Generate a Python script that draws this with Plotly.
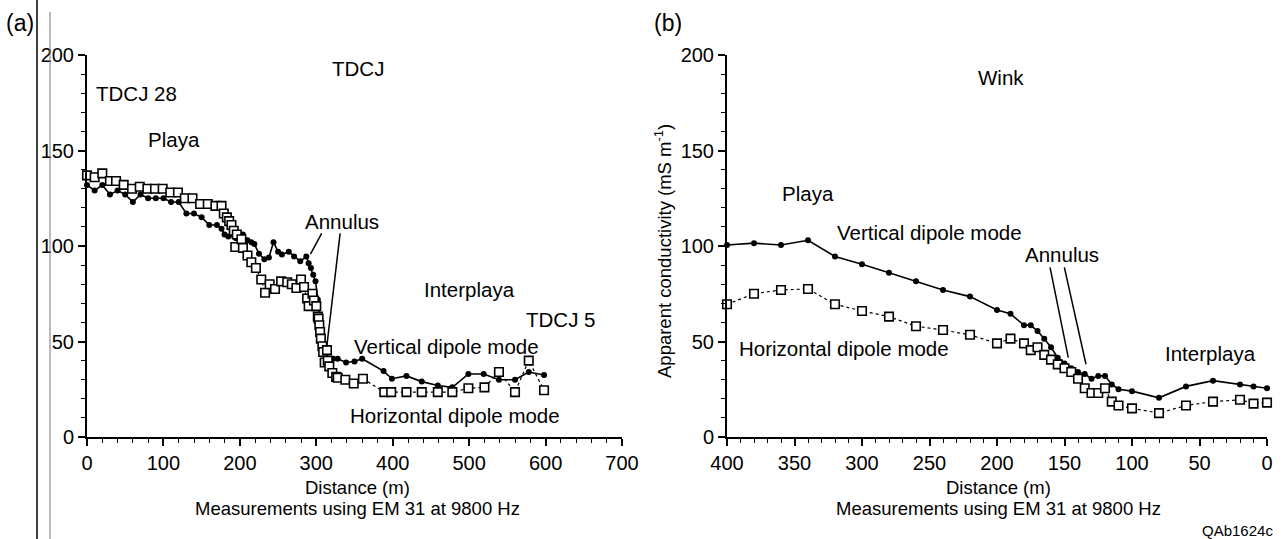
import plotly.graph_objects as go

# ---- Panel (a): TDCJ transect ----
a_vert_x = [0, 10, 20, 30, 40, 50, 60, 70, 80, 90, 100, 110, 120, 130, 140, 150, 160, 170,
            176, 180, 185, 190, 195, 204, 210, 215, 219, 225, 232, 238, 244, 250, 255, 264,
            271, 279, 287, 290, 293, 296, 299, 302, 305, 308, 311, 315, 322, 328, 339, 350,
            360, 388, 399, 418, 438, 459, 478, 499, 519, 539, 560, 578, 598]
a_vert_y = [132, 129, 132, 127, 129, 127, 123, 127, 125, 125, 125, 123, 123, 117, 117, 115, 111, 111,
            109, 106, 105, 106, 104, 106, 103, 102, 101, 96, 93, 94, 102, 97, 95.5, 97,
            94.5, 92, 94.5, 91, 88.5, 85, 81.5, 72, 60, 50, 45, 41, 41, 41, 39, 39.5,
            41, 34.5, 30.5, 32, 29, 27, 26, 33, 33, 30, 30, 34, 32.5]

a_horiz_x = [0, 10, 20, 30, 38, 48, 59, 69, 79, 89, 99, 109, 119, 128, 138, 148, 158, 168,
             176, 179, 183, 186, 189, 192, 194, 196, 202, 204, 210, 215, 221, 228, 233, 239,
             246, 254, 262, 268, 274, 280, 284, 288, 290, 295, 297, 300, 302, 303, 304, 305,
             306, 308, 309, 311, 314, 315, 317, 321, 326, 328, 338, 349, 361, 389, 398, 418,
             438, 459, 478, 499, 520, 539, 560, 578, 598]
a_horiz_y = [137, 136, 138, 134, 134, 132, 130, 131, 130, 130, 130, 128, 128, 125, 125, 122, 122, 121,
             121, 117, 115, 113, 111, 108, 99.5, 106, 103.5, 99, 95, 91.5, 88.5, 82.5, 75.5, 80,
             77.5, 81.5, 81, 80, 78, 82.5, 78.5, 72.5, 68.5, 75, 71.5, 68.5, 63, 62, 58.5, 55,
             51.5, 47.5, 44.5, 39, 45.5, 40, 37, 33.5, 31.5, 31, 30, 28, 30.5, 23.5, 23.5, 23.5,
             23.5, 23.5, 23.5, 25.5, 26, 34, 23.5, 40, 24.5]

# ---- Panel (b): Wink transect ----
b_x = [400, 380, 360, 340, 320, 300, 280, 260, 240, 220, 200, 190, 180, 175, 170, 165, 160,
       155, 150, 145, 140, 135, 130, 125, 120, 115, 110, 100, 80, 60, 40, 20, 10, 0]
b_vert_y = [100.5, 101.5, 100.5, 103, 94.5, 90.5, 86, 81.5, 77, 73.5, 66.5, 64.5, 58.5, 58.5,
            55.5, 51.5, 47, 41.5, 38.5, 36, 34, 33, 30.5, 32, 32, 27.5, 25, 24, 20.5, 26.5,
            29.5, 27.5, 26.5, 25.5]
b_horiz_y = [69.5, 75, 77, 77.5, 69.5, 66, 63, 58, 56, 53.5, 49, 51.5, 49, 45.5, 47, 43, 40.5,
             38, 36, 34, 30.5, 25.5, 23, 23, 25.5, 18.5, 16.5, 15, 12.5, 16.5, 18.5, 19.5, 17.5, 18]

# Text labels placed in data coordinates: (text, x, y)
a_labels = [("TDCJ", 354, 193), ("TDCJ 28", 65, 180), ("Playa", 114, 156),
            ("Annulus", 333, 112.7), ("Interplaya", 500, 77), ("TDCJ 5", 619, 61.3),
            ("Vertical dipole mode", 470, 47.6), ("Horizontal dipole mode", 482, 11.5)]
b_labels = [("Wink", 197, 188), ("Playa", 340, 127.4), ("Vertical dipole mode", 250, 107.1),
            ("Horizontal dipole mode", 313, 46.3), ("Annulus", 151.5, 95.8),
            ("Interplaya", 42, 43.7)]

# Leader lines from the "Annulus" labels: (x0, y0, x1, y1)
a_leaders = [(307, 106.6, 292.4, 95.8), (331.2, 106.6, 313.7, 47.3)]
b_leaders = [(160.7, 88.8, 147.2, 41.6), (150.1, 88.8, 134.1, 38.1)]

FONT = "Liberation Sans, Arial, Helvetica, sans-serif"
W, H = 1282, 539

fig = go.Figure()

def add_pair(xv, yv, xh, yh, xa, ya):
    fig.add_trace(go.Scatter(
        x=xv, y=yv, mode="lines+markers", xaxis=xa, yaxis=ya, cliponaxis=False,
        line=dict(color="black", width=1.6),
        marker=dict(symbol="circle", size=6, color="black"),
        showlegend=False, name="Vertical dipole mode"))
    fig.add_trace(go.Scatter(
        x=xh, y=yh, mode="lines+markers", xaxis=xa, yaxis=ya, cliponaxis=False,
        line=dict(color="black", width=1.2, dash="dot"),
        marker=dict(symbol="square", size=8.5, color="white",
                    line=dict(color="black", width=1.6)),
        showlegend=False, name="Horizontal dipole mode"))

add_pair(a_vert_x, a_vert_y, a_horiz_x, a_horiz_y, "x", "y")
add_pair(b_x, b_vert_y, b_x, b_horiz_y, "x2", "y2")

minor_ticks = dict(ticks="outside", ticklen=4, tickcolor="black", tickwidth=1.2)
axis_common = dict(
    showgrid=False, zeroline=False, showline=True, linecolor="black", linewidth=2,
    ticks="outside", ticklen=7, tickwidth=1.5, tickcolor="black", automargin=False,
    tickfont=dict(family=FONT, size=20, color="black"),
)

ydom = [(H - 437) / H, (H - 55) / H]
fig.update_layout(
    width=W, height=H, margin=dict(l=0, r=0, t=0, b=0, pad=0, autoexpand=False),
    paper_bgcolor="white", plot_bgcolor="white",
    xaxis=dict(domain=[87 / W, 622 / W], range=[0, 700], tick0=0, dtick=100,
               minor=dict(dtick=20, **minor_ticks), anchor="y", **axis_common),
    yaxis=dict(domain=ydom, range=[0, 200], tick0=0, dtick=50,
               minor=dict(dtick=10, **minor_ticks), anchor="x", **axis_common),
    xaxis2=dict(domain=[727 / W, 1267 / W], range=[400, 0], tick0=0, dtick=50,
                minor=dict(dtick=10, **minor_ticks), anchor="y2", **axis_common),
    yaxis2=dict(domain=ydom, range=[0, 200], tick0=0, dtick=50,
                minor=dict(dtick=10, **minor_ticks), anchor="x2", **axis_common),
)

annotations = []
for text, x, y in a_labels:
    annotations.append(dict(text=text, x=x, y=y, xref="x", yref="y", showarrow=False,
                            font=dict(family=FONT, size=20.5, color="black")))
for text, x, y in b_labels:
    annotations.append(dict(text=text, x=x, y=y, xref="x2", yref="y2", showarrow=False,
                            font=dict(family=FONT, size=20.5, color="black")))

def paper_text(text, px, py, size, xanchor="center"):
    annotations.append(dict(text=text, x=px / W, y=1 - py / H, xref="paper", yref="paper",
                            showarrow=False, xanchor=xanchor, yanchor="middle",
                            font=dict(family=FONT, size=size, color="black")))

paper_text("(a)", 20, 23, 23)
paper_text("(b)", 668, 23, 23)
paper_text("Distance (m)", 357, 487, 18.5)
paper_text("Measurements using EM 31 at 9800 Hz", 357, 508, 18.5)
paper_text("Distance (m)", 998, 487, 18.5)
paper_text("Measurements using EM 31 at 9800 Hz", 998, 508, 18.5)
paper_text("QAb1624c", 1275, 530, 15, xanchor="right")
annotations.append(dict(text="Apparent conductivity (mS m<sup>-1</sup>)", x=663 / W, y=1 - 251 / H,
                        xref="paper", yref="paper", showarrow=False, textangle=-90,
                        font=dict(family=FONT, size=18.5, color="black")))
fig.update_layout(annotations=annotations)

shapes = []
for x0, y0, x1, y1 in a_leaders:
    shapes.append(dict(type="line", xref="x", yref="y", x0=x0, y0=y0, x1=x1, y1=y1,
                       line=dict(color="black", width=1.5)))
for x0, y0, x1, y1 in b_leaders:
    shapes.append(dict(type="line", xref="x2", yref="y2", x0=x0, y0=y0, x1=x1, y1=y1,
                       line=dict(color="black", width=1.5)))
# Page edge rules along the left margin
shapes.append(dict(type="line", xref="paper", yref="paper", x0=37 / W, x1=37 / W, y0=0, y1=1,
                   line=dict(color="black", width=1.5)))
shapes.append(dict(type="line", xref="paper", yref="paper", x0=50 / W, x1=50 / W, y0=0, y1=1 - 12 / H,
                   line=dict(color="#777777", width=1)))
fig.update_layout(shapes=shapes)

fig.write_html("out.html")
